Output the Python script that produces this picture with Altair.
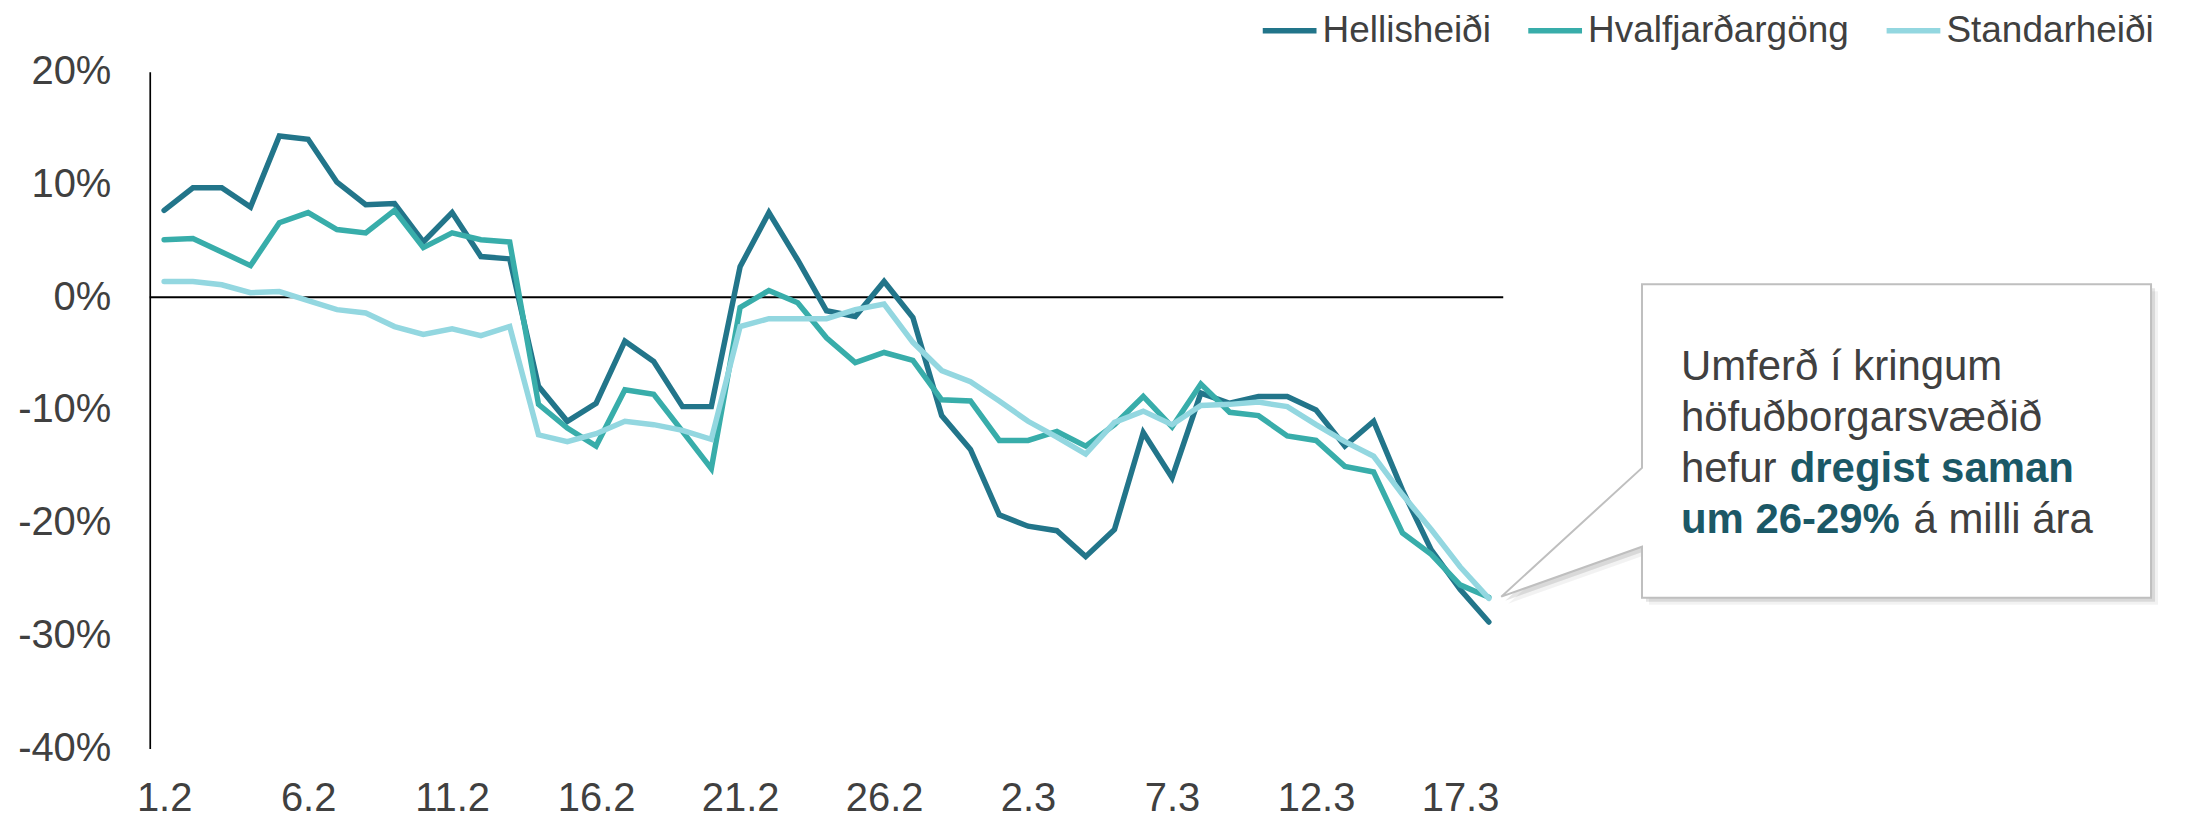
import altair as alt
import pandas as pd

# ---- data -------------------------------------------------------------
dagar = [
    "1.2", "2.2", "3.2", "4.2", "5.2", "6.2", "7.2", "8.2", "9.2", "10.2",
    "11.2", "12.2", "13.2", "14.2", "15.2", "16.2", "17.2", "18.2", "19.2", "20.2",
    "21.2", "22.2", "23.2", "24.2", "25.2", "26.2", "27.2", "28.2", "29.2",
    "1.3", "2.3", "3.3", "4.3", "5.3", "6.3", "7.3", "8.3", "9.3", "10.3",
    "11.3", "12.3", "13.3", "14.3", "15.3", "16.3", "17.3", "18.3",
]

hellisheidi = [
    7.7, 9.7, 9.7, 8.0, 14.3, 14.0, 10.2, 8.2, 8.3, 4.9,
    7.5, 3.6, 3.4, -7.9, -11.0, -9.4, -3.9, -5.7, -9.7, -9.7,
    2.7, 7.5, 3.3, -1.2, -1.7, 1.4, -1.8, -10.5, -13.5,
    -19.3, -20.3, -20.7, -23.0, -20.6, -12.0, -16.0, -8.5, -9.4, -8.8,
    -8.8, -10.0, -13.2, -11.0, -17.1, -22.4, -25.9, -28.8,
]
hvalfjardargong = [
    5.1, 5.2, 4.0, 2.8, 6.6, 7.5, 6.0, 5.7, 7.7, 4.4,
    5.7, 5.1, 4.9, -9.5, -11.6, -13.2, -8.2, -8.6, -11.9, -15.2,
    -0.9, 0.6, -0.5, -3.6, -5.8, -4.9, -5.6, -9.1, -9.2,
    -12.7, -12.7, -11.9, -13.2, -11.3, -8.8, -11.5, -7.7, -10.2, -10.5,
    -12.3, -12.7, -15.0, -15.5, -20.9, -22.8, -25.5, -26.6,
]
standarheidi = [
    1.4, 1.4, 1.1, 0.4, 0.5, -0.3, -1.1, -1.4, -2.6, -3.3,
    -2.8, -3.4, -2.6, -12.2, -12.8, -12.1, -11.0, -11.3, -11.8, -12.6,
    -2.6, -1.9, -1.9, -1.9, -1.1, -0.6, -4.0, -6.5, -7.5,
    -9.2, -11.0, -12.4, -13.9, -11.1, -10.1, -11.3, -9.6, -9.5, -9.3,
    -9.7, -11.3, -12.8, -14.1, -17.5, -20.6, -23.9, -26.7,
]

series_names = ["Hellisheiði", "Hvalfjarðargöng", "Standarheiði"]
series_colors = ["#22758A", "#38ADAA", "#93D7E0"]

x_labels = ["1.2", "6.2", "11.2", "16.2", "21.2", "26.2", "2.3", "7.3", "12.3", "17.3"]
y_ticks = [-0.4, -0.3, -0.2, -0.1, 0.0, 0.1, 0.2]

note_lines = ["Umferð í kringum", "höfuðborgarsvæðið", "hefur ", "dregist saman",
              "um 26-29%", "á milli ára"]

# ---- table ------------------------------------------------------------
rows = []
for name, vals in zip(series_names, [hellisheidi, hvalfjardargong, standarheidi]):
    for i, (d, v) in enumerate(zip(dagar, vals)):
        rows.append({"vegur": name, "dagur": d, "nr": i, "breyting": v / 100.0})
df = pd.DataFrame(rows)

FONT = "Liberation Sans"
TXT = "#404040"
W, H = 1356, 678

x_enc = alt.X(
    "dagur:O", sort=dagar,
    scale=alt.Scale(type="point", padding=0.5),
    axis=alt.Axis(values=x_labels, labelAngle=0, ticks=False, domain=False,
                  labelFontSize=40, labelColor=TXT, labelPadding=30,
                  labelFont=FONT, title=None, grid=False),
)
y_enc = alt.Y(
    "breyting:Q",
    scale=alt.Scale(domain=[-0.4, 0.2], nice=False, zero=False),
    axis=alt.Axis(values=y_ticks, labelExpr="round(datum.value*100) + '%'",
                  ticks=False, grid=False, domainColor="black", domainWidth=1.7,
                  labelFontSize=40, labelColor=TXT, labelPadding=39,
                  labelFont=FONT, title=None),
)

zero = alt.Chart(pd.DataFrame({"z": [0]})).mark_rule(color="black", strokeWidth=2).encode(
    y=alt.datum(0)
)

lines = alt.Chart(df).mark_line(strokeWidth=5.5, strokeCap="round").encode(
    x=x_enc,
    y=y_enc,
    color=alt.Color(
        "vegur:N", sort=series_names,
        scale=alt.Scale(domain=series_names, range=series_colors),
        legend=alt.Legend(orient="none", legendX=1112, legendY=-71,
                          direction="horizontal", symbolType="stroke",
                          symbolSize=2900, symbolStrokeWidth=5.5,
                          labelFontSize=37, labelColor=TXT, labelFont=FONT,
                          labelLimit=0, labelOffset=3, columnPadding=26,
                          padding=0, title=None),
    ),
    order=alt.Order("nr:Q"),
)

# callout shape (box with pointer), unit square coordinates
callout_path = ("M-0.46125,-0.3925 L0.81375,-0.3925 L0.81375,0.3925 L-0.46125,0.3925 "
                "L-0.46125,0.265 L-0.81375,0.39 L-0.46125,0.0675 Z")
one = pd.DataFrame({"a": [0]})
CX, CY = 1679.5, 370

shadow1 = alt.Chart(one).mark_point(shape=callout_path, size=640000, filled=True,
                                    fill="#000000", opacity=0.05, strokeWidth=0).encode(
    x=alt.value(CX + 7), y=alt.value(CY + 7))
shadow2 = alt.Chart(one).mark_point(shape=callout_path, size=640000, filled=True,
                                    fill="#000000", opacity=0.10, strokeWidth=0).encode(
    x=alt.value(CX + 4), y=alt.value(CY + 4))
box = alt.Chart(one).mark_point(shape=callout_path, size=640000, filled=True,
                                fill="white", stroke="#BFBFBF", strokeWidth=2,
                                opacity=1).encode(
    x=alt.value(CX), y=alt.value(CY))


def note(text, x, y, bold=False):
    return alt.Chart(pd.DataFrame({"t": [text]})).mark_text(
        align="left", baseline="alphabetic", font=FONT, fontSize=42,
        fontWeight="bold" if bold else "normal",
        color="#1B5866" if bold else TXT,
    ).encode(text="t:N", x=alt.value(x), y=alt.value(y))


TX = 1534
texts = [
    note(note_lines[0], TX, 309),
    note(note_lines[1], TX, 360),
    note(note_lines[2], TX, 411),
    note(note_lines[3], TX + 109, 411, bold=True),
    note(note_lines[4], TX, 462, bold=True),
    note(note_lines[5], TX + 233, 462),
]

chart = alt.layer(zero, lines, shadow1, shadow2, box, *texts).properties(
    width=W, height=H,
    autosize=alt.AutoSizeParams(type="none"),
    padding={"left": 142, "top": 63, "right": 675, "bottom": 70},
    background="white",
).configure(font=FONT).configure_view(stroke=None)

chart.save("out.html", embed_options={"renderer": "svg", "actions": False})
